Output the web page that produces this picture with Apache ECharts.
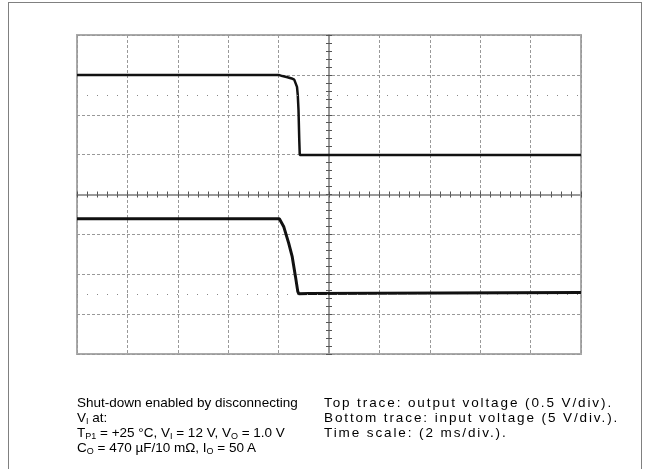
<!DOCTYPE html>
<html>
<head>
<meta charset="utf-8">
<script src="https://cdn.jsdelivr.net/npm/echarts@6/dist/echarts.min.js"></script>
<style>
  body { margin: 0; background: #fff; }
  #wrap { position: relative; width: 646px; height: 469px; overflow: hidden; }
  #frame { position: absolute; left: 8px; top: 2px; width: 634px; height: 480px;
           border: 1px solid #808080; box-sizing: border-box; }
  #main { position: absolute; left: 0; top: 0; width: 646px; height: 469px; }
  .note { position: absolute; top: 395px; font-family: "Liberation Sans", Arial, sans-serif;
          font-size: 13.5px; line-height: 15px; color: #000; white-space: nowrap; }
  .note sub { font-size: 9px; vertical-align: -2px; line-height: 0; letter-spacing: 0; }
</style>
</head>
<body>
<div id="wrap">
  <div id="frame"></div>
  <div id="main"></div>
  <div class="note" style="left:77px">
    Shut-down enabled by disconnecting<br>
    V<sub>I</sub> at:<br>
    T<sub>P1</sub> = +25 °C, V<sub>I</sub> = 12 V, V<sub>O</sub> = 1.0 V<br>
    C<sub>O</sub> = 470 µF/10 mΩ, I<sub>O</sub> = 50 A
  </div>
  <div class="note" style="left:324px; letter-spacing:1.9px">
    Top trace: output voltage (0.5 V/div).<br>
    Bottom trace: input voltage (5 V/div.).<br>
    Time scale: (2 ms/div.).
  </div>
</div>
<script>
// time in ms (0 = centre of screen), level in divisions
var topTime = [-10, -2.0, -1.85, -1.65, -1.48, -1.38, -1.31, -1.27, -1.24, -1.21, -1.18, -1.16, 10];
var topDiv  = [3.0, 3.0, 2.97, 2.94, 2.91, 2.88, 2.83, 2.70, 2.50, 2.12, 1.37, 0.99, 0.99];

var botTime = [-10, -1.97, -1.80, -1.60, -1.46, -1.33, -1.24, -1.20, -0.8, 10];
var botDiv  = [-0.61, -0.61, -0.80, -1.22, -1.56, -2.06, -2.43, -2.49, -2.48, -2.46];

var refLevels = [2.5, -2.5];

function pairs(xs, ys) {
    var out = [];
    for (var i = 0; i < xs.length; i++) out.push([xs[i], ys[i]]);
    return out;
}

var tickStyle = { color: "#555", width: 1 };
function centreX(pos, withGrid) {
    return {
        type: "value", min: -10, max: 10, interval: 2, position: pos,
        axisLine: { show: true, onZero: true, lineStyle: { color: "#9a9a9a", width: 2 } },
        axisTick: { show: true, inside: false, length: 3, lineStyle: tickStyle },
        minorTick: { show: true, splitNumber: 5, length: 3, lineStyle: tickStyle },
        axisLabel: { show: false },
        splitLine: { show: withGrid, lineStyle: { color: "#999", type: [3, 2], width: 1 } }
    };
}
function centreY(pos, withGrid) {
    return {
        type: "value", min: -4, max: 4, interval: 1, position: pos,
        axisLine: { show: true, onZero: true, lineStyle: { color: "#9a9a9a", width: 2 } },
        axisTick: { show: true, inside: false, length: 3, lineStyle: tickStyle },
        minorTick: { show: true, splitNumber: 5, length: 3, lineStyle: tickStyle },
        axisLabel: { show: false },
        splitLine: { show: withGrid, lineStyle: { color: "#999", type: [3, 2], width: 1 } }
    };
}

var myChart = echarts.init(document.getElementById("main"), null, { renderer: "canvas" });
myChart.setOption({
    animation: false,
    grid: {
        left: 77, top: 35, width: 504, height: 319,
        show: true, borderColor: "#aaa", borderWidth: 2
    },
    xAxis: [centreX("bottom", true), centreX("top", false)],
    yAxis: [centreY("left", true), centreY("right", false)],
    series: [
        {
            name: "output voltage",
            type: "line",
            data: pairs(topTime, topDiv),
            showSymbol: false,
            lineStyle: { color: "#111", width: 2.5 },
            markLine: {
                silent: true,
                symbol: "none",
                label: { show: false },
                lineStyle: { color: "#888", type: [1, 9], width: 1 },
                data: refLevels.map(function (v) { return { yAxis: v }; })
            }
        },
        {
            name: "input voltage",
            type: "line",
            data: pairs(botTime, botDiv),
            showSymbol: false,
            lineStyle: { color: "#111", width: 3 }
        }
    ]
});
</script>
</body>
</html>
